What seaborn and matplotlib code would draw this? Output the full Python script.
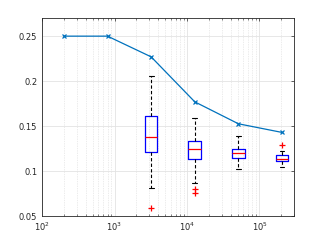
import matplotlib
matplotlib.use("Agg")
import matplotlib.pyplot as plt
import seaborn as sns
import numpy as np
import pandas as pd

# Mean curve
line_x = [200, 800, 3200, 12800, 51200, 204800]
line_y = [0.250, 0.250, 0.227, 0.177, 0.1526, 0.143]

# Box groups (x positions) and sample values giving the drawn quartiles/whiskers/outliers
box_x = [3200, 12800, 51200, 204800]
box_3200 = [0.0585, 0.0815, 0.1207, 0.1374, 0.1374, 0.1374, 0.1611, 0.2052, 0.2052]
box_12800 = [0.0759, 0.0804, 0.0867, 0.1133, 0.1133, 0.1244, 0.1244, 0.1244,
             0.1337, 0.1337, 0.1593, 0.1593, 0.1593]
box_51200 = [0.1022, 0.1141, 0.1196, 0.1248, 0.1393]
box_204800 = [0.1041, 0.1110, 0.1110, 0.1137, 0.1137, 0.1137, 0.1175, 0.1225, 0.1285]

yticks = [0.05, 0.1, 0.15, 0.2, 0.25]
ytick_labels = ["0.05", "0.1", "0.15", "0.2", "0.25"]

sns.set_style("white")
plt.rcParams['font.family'] = ['DejaVu Sans']

groups = [box_3200, box_12800, box_51200, box_204800]
df_box = pd.DataFrame({
    "x": np.concatenate([[xv] * len(g) for xv, g in zip(box_x, groups)]).astype(float),
    "y": np.concatenate(groups),
})
df_line = pd.DataFrame({"x": line_x, "y": line_y})

fig = plt.figure(figsize=(3.26, 2.42), dpi=100)
ax = fig.add_axes([0.129, 0.107, 0.773, 0.818])
ax.set_xscale("log")

sns.boxplot(data=df_box, x="x", y="y", native_scale=True, ax=ax, fill=False,
            width=0.29, whis=1.5, linewidth=0.9,
            boxprops=dict(color=(0, 0, 1), linewidth=0.9),
            medianprops=dict(color=(1, 0, 0), linewidth=0.9),
            whiskerprops=dict(color="black", linestyle=(0, (3, 2)), linewidth=0.8),
            capprops=dict(color="black", linewidth=0.8),
            flierprops=dict(marker="+", markeredgecolor=(1, 0, 0), markersize=4.5,
                            markeredgewidth=0.9))

# shorten caps (MATLAB style)
for ln in ax.lines:
    xd = np.asarray(ln.get_xdata(), dtype=float)
    yd = np.asarray(ln.get_ydata(), dtype=float)
    if len(xd) == 2 and yd[0] == yd[1] and xd[0] != xd[1] and ln.get_linestyle() == "-" \
            and matplotlib.colors.same_color(ln.get_color(), "black"):
        lx = np.log10(xd)
        c = lx.mean()
        h = (lx[1] - lx[0]) / 2 * 0.75
        ln.set_xdata(10 ** np.array([c - h, c + h]))

sns.lineplot(data=df_line, x="x", y="y", ax=ax, color=(0, 0.447, 0.741),
             marker="x", markersize=3.5, markeredgewidth=0.9, linewidth=0.9,
             markeredgecolor=(0, 0.447, 0.741))

ax.set_xscale("log")
ax.set_xlim(100, 3e5)
ax.set_ylim(0.05, 0.27)
ax.set_yticks(yticks)
ax.set_yticklabels(ytick_labels)
ax.set_xlabel("")
ax.set_ylabel("")

ax.grid(True, which="major", color="#e3e3e3", linewidth=0.6)
ax.grid(True, which="minor", axis="x", color="#d9d9d9", linestyle=(0, (1, 1.5)), linewidth=0.5)
ax.set_axisbelow(True)

for s in ax.spines.values():
    s.set_color("#262626")
    s.set_linewidth(0.6)
    s.set_visible(True)
ax.tick_params(axis="both", which="major", direction="in", length=2.5, width=0.5,
               labelsize=6, colors="#262626", top=True, right=True)
ax.tick_params(axis="x", which="minor", direction="in", length=1.5, width=0.4,
               top=True, bottom=True, colors="#262626")

fig.savefig("out.png", dpi=100, facecolor="white")
